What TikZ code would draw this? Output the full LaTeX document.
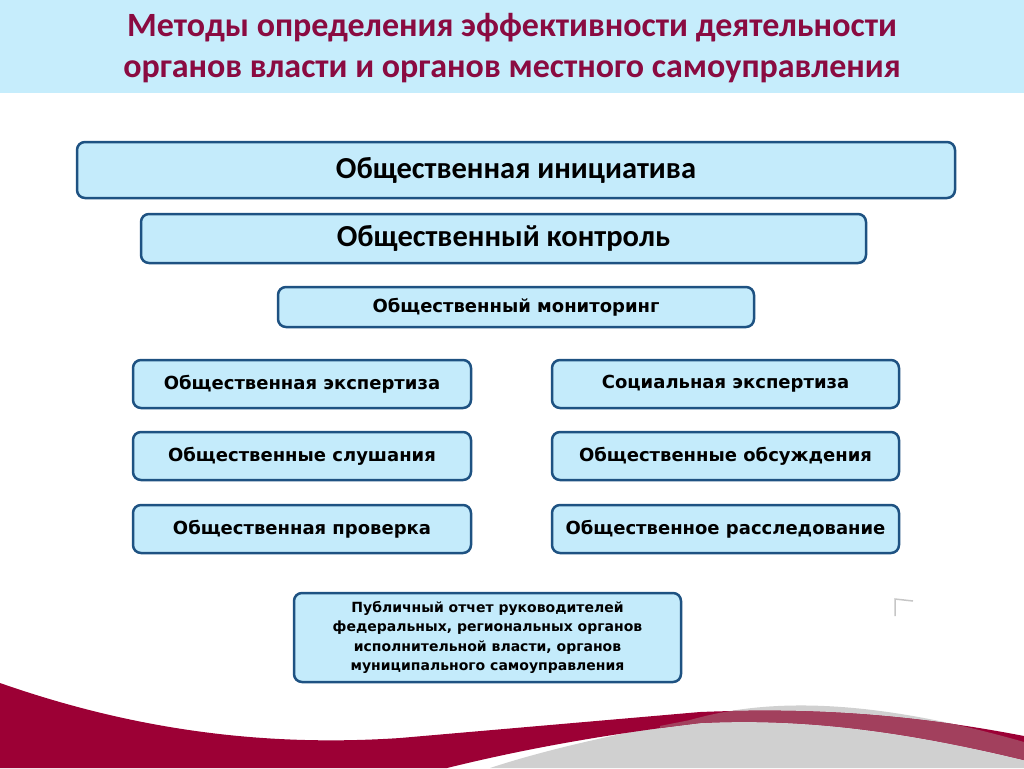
\documentclass[tikz,border=0pt]{standalone}
\usepackage{fontspec}
\setmainfont{DejaVu Sans}
\newfontfamily\titlefont{Carlito}
\definecolor{bandblue}{HTML}{C6EDFC}
\definecolor{boxblue}{HTML}{C4EBFB}
\definecolor{boxline}{HTML}{1E5282}
\definecolor{titlered}{HTML}{8A0B41}
\definecolor{swooshred}{HTML}{9C0035}
\definecolor{ribbonred}{HTML}{A2405D}
\definecolor{swooshgray}{HTML}{D0D0D0}
\tikzset{
  methodbox/.style={draw=boxline, fill=boxblue, line width=2.5pt, rounded corners=8pt,
    inner sep=0pt, align=center, font=\bfseries\fontsize{18}{21}\selectfont},
  bigbox/.style={methodbox, font=\titlefont\bfseries\fontsize{30.5}{34}\selectfont},
  titletext/.style={text=titlered, align=center, font=\titlefont\bfseries\fontsize{34}{41}\selectfont}
}
\begin{document}
\begin{tikzpicture}[x=1pt, y=-1pt]
  \useasboundingbox (0,0) rectangle (1024,768);

  % title band
  \fill[bandblue] (0,0) rectangle (1024,93);
  \node[titletext] (title) at (512,48) {Методы определения эффективности деятельности\\органов власти и органов местного самоуправления};

  % bottom swoosh
  \fill[swooshgray] (490,768) .. controls (560,745) and (640,730) .. (690,720)
    .. controls (760,700) and (860,695) .. (1024,742) -- (1024,768) -- cycle;
  \fill[swooshred] (0,683) .. controls (120,725) and (250,748) .. (400,738)
    -- (700,712) .. controls (800,708) and (900,712) .. (1024,736)
    -- (1024,760) .. controls (900,730) and (800,718) .. (700,723)
    .. controls (600,735) and (520,750) .. (447,768) -- (0,768) -- cycle;
  \begin{scope}
    \clip (490,768) .. controls (560,745) and (640,730) .. (690,720)
      .. controls (760,700) and (860,695) .. (1024,742) -- (1024,768) -- cycle;
    \fill[ribbonred] (700,712) .. controls (800,708) and (900,712) .. (1024,736)
      -- (1024,760) .. controls (900,730) and (800,718) .. (700,723)
      .. controls (680,725) .. (660,728) -- (660,700) -- cycle;
  \end{scope}

  % small corner mark
  \draw[gray!45, line width=1.5pt] (895,616) -- (895,599) -- (913,601);

  % methods
  \node[bigbox, minimum width=878, minimum height=56] (initiative) at (516,170) {Общественная инициатива};
  \node[bigbox, minimum width=725, minimum height=49] (control) at (503.5,238.5) {Общественный контроль};
  \node[methodbox, minimum width=476, minimum height=40] (monitoring) at (516,307) {Общественный мониторинг};

  \node[methodbox, minimum width=338, minimum height=48] (expertise) at (302,384) {Общественная экспертиза};
  \node[methodbox, minimum width=338, minimum height=48] (hearings) at (302,456) {Общественные слушания};
  \node[methodbox, minimum width=338, minimum height=48] (inspection) at (302,529) {Общественная проверка};

  \node[methodbox, minimum width=347, minimum height=48] (socexpertise) at (725.5,384) {Социальная экспертиза};
  \node[methodbox, minimum width=347, minimum height=48] (discussion) at (725.5,456) {Общественные обсуждения};
  \node[methodbox, minimum width=347, minimum height=48] (investigation) at (725.5,529) {Общественное расследование};

  \node[methodbox, minimum width=387, minimum height=89, font=\bfseries\fontsize{14}{19.5}\selectfont] (report) at (487.5,637.5)
    {Публичный отчет руководителей\\федеральных, региональных органов\\исполнительной власти, органов\\муниципального самоуправления};
\end{tikzpicture}
\end{document}
